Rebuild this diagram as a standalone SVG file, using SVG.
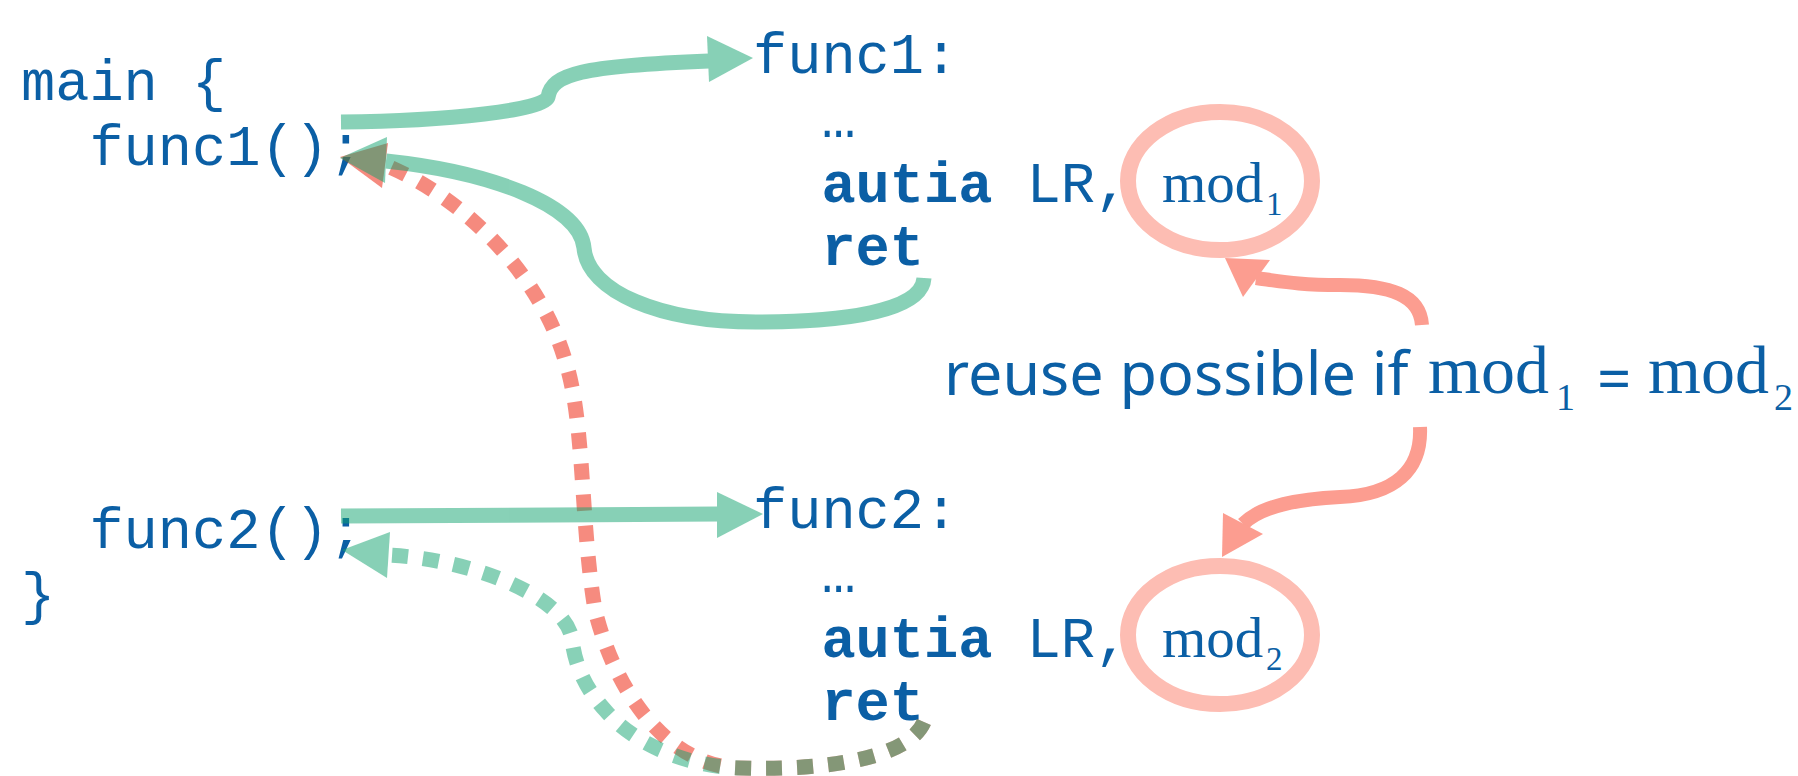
<svg xmlns="http://www.w3.org/2000/svg" width="1798" height="776" viewBox="0 0 1798 776">
<style>
.code{font-family:"Liberation Mono","DejaVu Sans Mono",monospace;font-size:57px;fill:#0b5fa5}
.b{font-weight:bold}
.math{font-family:"Liberation Serif","DejaVu Serif",serif;fill:#0b5fa5}
.sans{font-family:"Noto Sans","Open Sans",sans-serif;fill:#0b5fa5}
.gl{fill:none;stroke:#11a36f;stroke-width:15}
.rl{fill:none;stroke:#ed1700;stroke-width:15}
.dash{stroke-dasharray:16 15}
.gf{fill:#11a36f}
.rf{fill:#ed1700}
.sl{fill:none;stroke:#fc9d90;stroke-width:14}
.sf{fill:#fc9d90}
.ell{fill:none;stroke:#fdbdb3;stroke-width:16}
</style>
<rect width="1798" height="776" fill="#ffffff"/>
<g id="main">
<text class="code" x="21" y="100">main {</text>
<text class="code" x="89.4" y="165">func1();</text>
<text class="code" x="89.4" y="548">func2();</text>
<text class="code" x="21" y="613">}</text>
</g>
<g id="func1">
<text class="code" x="753" y="73">func1:</text>
<text class="code" x="821.4" y="137">…</text>
<text class="code" x="821.4" y="202"><tspan class="b">autia</tspan> LR,</text>
<text class="math" x="1162" y="202" font-size="57">mod</text>
<text class="math" x="1266" y="215" font-size="33">1</text>
<text class="code b" x="821.4" y="265">ret</text>
<ellipse class="ell" cx="1220" cy="181" rx="92" ry="69"/>
</g>
<g id="func2">
<text class="code" x="753" y="528">func2:</text>
<text class="code" x="821.4" y="592">…</text>
<text class="code" x="821.4" y="657"><tspan class="b">autia</tspan> LR,</text>
<text class="math" x="1162" y="657" font-size="57">mod</text>
<text class="math" x="1266" y="670" font-size="33">2</text>
<text class="code b" x="821.4" y="720">ret</text>
<ellipse class="ell" cx="1220" cy="635" rx="92" ry="69"/>
</g>
<g id="note">
<text class="sans" x="944" y="395" font-size="61">reuse possible if</text>
<text class="math" x="1428" y="393" font-size="68">mod</text>
<text class="math" x="1556" y="410" font-size="38">1</text>
<text class="sans" x="1597" y="400" font-size="60">=</text>
<text class="math" x="1648" y="393" font-size="68">mod</text>
<text class="math" x="1774" y="410" font-size="38">2</text>
</g>
<g id="connectors">
<g opacity="0.5">
<path class="rl dash" d="M924,722 C905,765 800,770 740,768 C680,768 620,710 595,610 C580,520 585,420 565,360 C545,290 480,205 385,165"/>
<polygon class="rf" points="340,157 388,143 382,188"/>
</g>
<g opacity="0.5">
<path class="gl dash" d="M924,722 C905,765 800,770 740,768 C680,766 630,740 605,710 C585,688 575,665 572,640 C568,600 480,560 388,555"/>
<polygon class="gf" points="342,550 390,532 387,578"/>
</g>
<g opacity="0.5">
<path class="gl" d="M341,122 C450,121 545,110 548,97 C552,74 580,66 709,61"/>
<polygon class="gf" points="753,58 707,36 709,82"/>
</g>
<g opacity="0.5">
<path class="gl" d="M924,278 C922,312 840,322 756,322 C660,322 588,292 584,248 C580,205 490,172 386,161"/>
<polygon class="gf" points="340,158 387,137 385,183"/>
</g>
<g opacity="0.5">
<path class="gl" d="M341,516 L553,515 L719,514"/>
<polygon class="gf" points="763,514 717,492 717,538"/>
</g>
<path class="sl" d="M1422,325 C1420,295 1390,285 1340,285 C1300,285 1285,282 1256,278"/>
<polygon class="sf" points="1225,258 1243,297 1270,260"/>
<path class="sl" d="M1420,427 C1422,470 1395,495 1340,497 C1300,499 1262,505 1243,524"/>
<polygon class="sf" points="1222,557 1223,513 1263,534"/>
</g>
</svg>
